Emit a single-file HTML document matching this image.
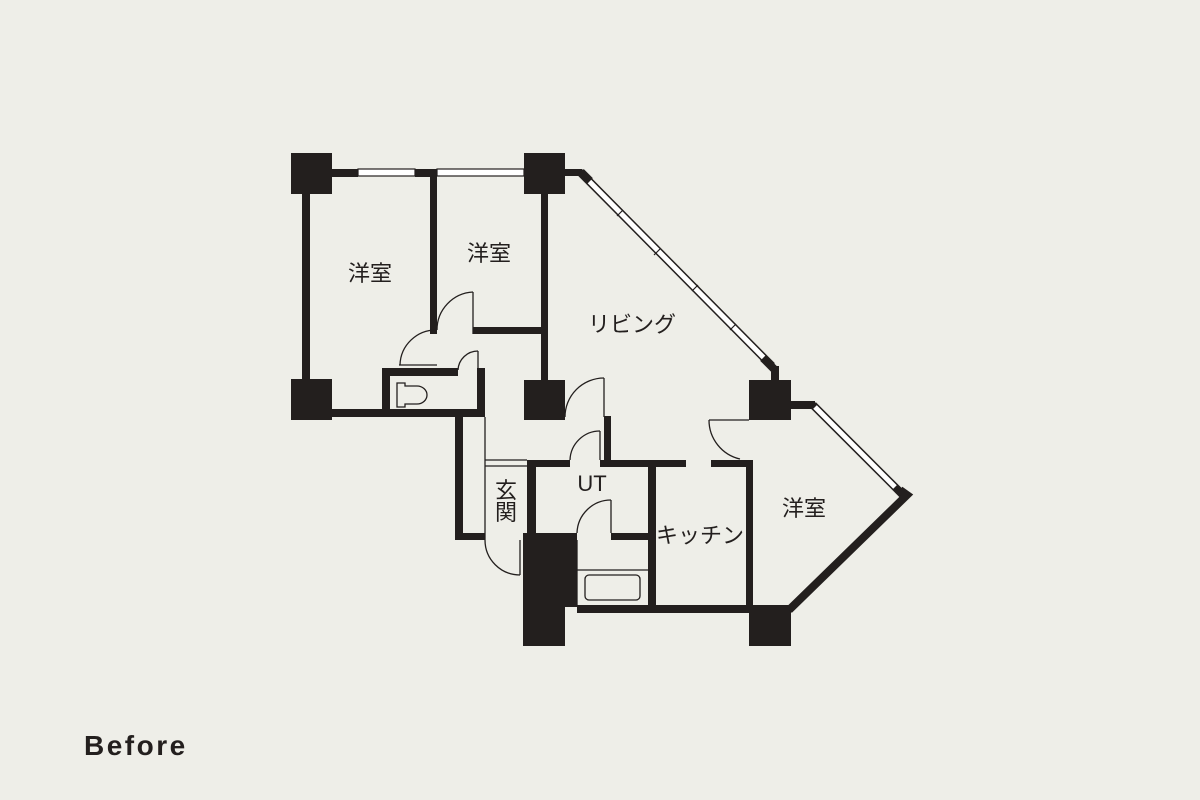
<!DOCTYPE html>
<html><head><meta charset="utf-8"><style>
html,body{margin:0;padding:0;background:#eeeee8;}
svg{display:block}
text{font-family:"Liberation Sans","Noto Sans CJK JP",sans-serif;fill:#231f1e;}
</style></head><body>
<svg width="1200" height="800" viewBox="0 0 1200 800" xmlns="http://www.w3.org/2000/svg">
<rect width="1200" height="800" fill="#eeeee8"/>
<g fill="#231f1e">
<rect x="291" y="153" width="41" height="41"/>
<rect x="524" y="153" width="41" height="41"/>
<rect x="291" y="379" width="41" height="41"/>
<rect x="524" y="380" width="41" height="40"/>
<rect x="749" y="380" width="42" height="40"/>
<rect x="749" y="605" width="42" height="41"/>
<rect x="523" y="533" width="54" height="74"/>
<rect x="523" y="600" width="42" height="46"/>
<rect x="332" y="169" width="26" height="8"/>
<rect x="415" y="169" width="22" height="8"/>
<rect x="565" y="169" width="17" height="7"/>
<rect x="302" y="194" width="8" height="185"/>
<rect x="430" y="176" width="7" height="158"/>
<rect x="541" y="194" width="7" height="186"/>
<rect x="473" y="327" width="68" height="7"/>
<rect x="332" y="409" width="153" height="8"/>
<rect x="382" y="368" width="8" height="45"/>
<rect x="382" y="368" width="76" height="8"/>
<rect x="477" y="368" width="8" height="49"/>
<rect x="455" y="417" width="8" height="123"/>
<rect x="455" y="533" width="30" height="7"/>
<rect x="527" y="460" width="9" height="73"/>
<rect x="527" y="460" width="43" height="7"/>
<rect x="604" y="416" width="7" height="51"/>
<rect x="600" y="460" width="86" height="7"/>
<rect x="711" y="460" width="42" height="7"/>
<rect x="611" y="533" width="37" height="7"/>
<rect x="648" y="460" width="8" height="153"/>
<rect x="746" y="460" width="7" height="145"/>
<rect x="577" y="605" width="172" height="8"/>
<rect x="791" y="401" width="24" height="8"/>
<rect x="771" y="366" width="8" height="16"/>
</g>
<g>
<rect x="358" y="169" width="57" height="7" fill="#fff" stroke="#231f1e" stroke-width="1.2"/>
<rect x="437" y="169" width="87" height="7" fill="#fff" stroke="#231f1e" stroke-width="1.2"/>
<line x1="580" y1="172" x2="772" y2="366" stroke="#231f1e" stroke-width="8"/>
<line x1="582" y1="174" x2="770" y2="364" stroke="#fff" stroke-width="5"/>
<line x1="813" y1="405" x2="903" y2="495" stroke="#231f1e" stroke-width="8"/>
<line x1="815" y1="407" x2="895" y2="487" stroke="#fff" stroke-width="5"/>
<polyline points="900,490 907,495 789,610" fill="none" stroke="#231f1e" stroke-width="8"/>
<line x1="581" y1="172" x2="590" y2="181" stroke="#231f1e" stroke-width="8"/>
<line x1="763" y1="358" x2="775" y2="370" stroke="#231f1e" stroke-width="8"/>
<g stroke="#231f1e" stroke-width="1.2">
<line x1="617" y1="216" x2="623" y2="210"/>
<line x1="654" y1="255" x2="660" y2="249"/>
<line x1="692" y1="291" x2="698" y2="285"/>
<line x1="730" y1="330" x2="736" y2="324"/>
</g>
</g>
<g fill="none" stroke="#231f1e" stroke-width="1.3">
<line x1="473" y1="292" x2="473" y2="334"/><path d="M473,292 A38,38 0 0 0 437,330"/>
<line x1="399" y1="365" x2="437" y2="365"/><path d="M437,330 A36,36 0 0 0 400,365"/>
<line x1="478" y1="351" x2="478" y2="370"/><path d="M478,351 A20,20 0 0 0 458,370"/>
<line x1="604" y1="378" x2="604" y2="417"/><path d="M604,378 A39,39 0 0 0 565,417"/>
<line x1="600" y1="431" x2="600" y2="460"/><path d="M600,431 A30,30 0 0 0 570,460"/>
<line x1="611" y1="500" x2="611" y2="533"/><path d="M611,500 A34,34 0 0 0 577,533"/>
<line x1="520" y1="540" x2="520" y2="575"/><path d="M485,540 A35,35 0 0 0 520,575"/>
<line x1="709" y1="420" x2="749" y2="420"/><path d="M709,420 A40,40 0 0 0 740,459"/>
<line x1="485" y1="417" x2="485" y2="540"/>
<line x1="485" y1="460" x2="527" y2="460"/><line x1="485" y1="466" x2="527" y2="466"/>
<line x1="577" y1="570" x2="648" y2="570"/>
<line x1="577" y1="540" x2="577" y2="605"/>
<rect x="585" y="575" width="55" height="25" rx="4"/>
<path d="M397,383 h8 v3 h12 a10,9 0 0 1 0,18 h-12 v3 h-8 z"/>
</g>
<g font-size="22">
<text x="370" y="281" text-anchor="middle">洋室</text>
<text x="489" y="261" text-anchor="middle">洋室</text>
<text x="804" y="516" text-anchor="middle">洋室</text>
<text x="632" y="332" text-anchor="middle">リビング</text>
<text x="506" y="498" text-anchor="middle">玄</text>
<text x="506" y="520" text-anchor="middle">関</text>
<text x="592" y="491" text-anchor="middle">UT</text>
<text x="700" y="543" text-anchor="middle">キッチン</text>
</g>
<text x="84" y="755" font-size="28" font-weight="bold" letter-spacing="2.5">Before</text>
</svg>
</body></html>
